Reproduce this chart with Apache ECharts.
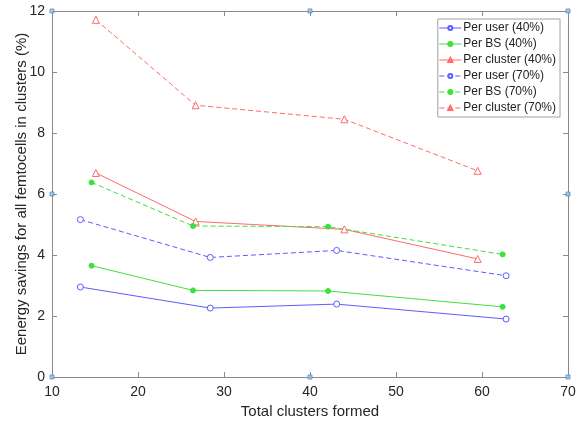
<!DOCTYPE html>
<html>
<head>
<meta charset="utf-8">
<script src="https://cdn.jsdelivr.net/npm/echarts@6/dist/echarts.min.js"></script>
<style>
  html, body { margin: 0; padding: 0; background: #fff; }
  #chart { width: 585px; height: 425px; }
</style>
</head>
<body>
<div id="chart"></div>
<script>
// x positions (clusters formed) per series group
const xUser = [13.3, 28.4, 43.1, 62.8]
const xBS = [14.6, 26.4, 42.1, 62.4]
const xCluster = [15.1, 26.7, 44.0, 59.5]

const userLow = [2.95, 2.26, 2.39, 1.90]
const bsLow = [3.65, 2.84, 2.82, 2.30]
const clusterLow = [6.69, 5.10, 4.84, 3.87]
const userHigh = [5.16, 3.92, 4.15, 3.32]
const bsHigh = [6.38, 4.95, 4.93, 4.02]
const clusterHigh = [11.71, 8.91, 8.45, 6.76]

// stray corner markers in the figure
const cornerX = [10, 40, 10, 10, 40, 70, 70, 70]
const cornerY = [0, 0, 6, 12, 12, 12, 6, 0]

const xTicks = [10, 20, 30, 40, 50, 60, 70]
const yTicks = [0, 2, 4, 6, 8, 10, 12]

const blue = '#5c5cff'
const green = '#3ee03e'
const red = '#ff6b6b'
const font = 'Liberation Sans, Arial, sans-serif'
const axisGray = '#8a8a8a'

const pair = (xs, ys) => xs.map((x, i) => [x, ys[i]])

const mkSeries = (name, xs, ys, color, symbol, dashed, filled) => ({
  name: name,
  type: 'line',
  data: pair(xs, ys),
  symbol: symbol,
  symbolSize: symbol === 'triangle' ? 7 : (filled ? 5 : 6),
  showSymbol: true,
  lineStyle: { color: color, width: 1, type: dashed ? [5, 3] : 'solid' },
  itemStyle: { color: filled ? color : '#fff', borderColor: color, borderWidth: 1 },
  emphasis: { disabled: true },
  animation: false,
  z: 3
})

const chart = echarts.init(document.getElementById('chart'))

const baseAxis = {
  axisLine: { show: true, onZero: false, lineStyle: { color: axisGray, width: 1 } },
  axisTick: { show: true, inside: true, length: 5, lineStyle: { color: axisGray } },
  splitLine: { show: false }
}

chart.setOption({
  backgroundColor: '#fff',
  animation: false,
  grid: { left: 52, right: 17, top: 11, bottom: 48, containLabel: false, outerBoundsMode: 'none' },
  legend: {
    right: 25,
    top: 19,
    orient: 'vertical',
    backgroundColor: '#fff',
    borderColor: '#a0a0a0',
    borderWidth: 1,
    borderRadius: 0,
    padding: [3, 4, 3, 1],
    itemGap: 4,
    itemWidth: 22,
    itemHeight: 5,
    lineStyle: { width: 1 },
    textStyle: { fontFamily: font, fontSize: 12, color: '#222', padding: [0, 0, 0, -3] },
    data: ['Per user (40%)', 'Per BS (40%)', 'Per cluster (40%)', 'Per user (70%)', 'Per BS (70%)', 'Per cluster (70%)']
  },
  xAxis: [
    Object.assign({}, baseAxis, {
      type: 'value', min: 10, max: 70, interval: 10,
      name: 'Total clusters formed', nameLocation: 'middle', nameGap: 26,
      nameTextStyle: { fontFamily: font, fontSize: 15, color: '#262626' },
      axisLabel: { fontFamily: font, fontSize: 14, color: '#262626', margin: 8,
        formatter: v => xTicks.includes(v) ? String(v) : '' }
    }),
    Object.assign({}, baseAxis, {
      type: 'value', min: 10, max: 70, interval: 10, position: 'top',
      axisLabel: { show: false }
    })
  ],
  yAxis: [
    Object.assign({}, baseAxis, {
      type: 'value', min: 0, max: 12, interval: 2,
      name: 'Eenergy savings for all femtocells in clusters (%)', nameLocation: 'middle', nameGap: 23,
      nameMoveOverlap: false,
      nameTextStyle: { fontFamily: font, fontSize: 15, color: '#262626' },
      axisLabel: { fontFamily: font, fontSize: 14, color: '#262626', margin: 7,
        formatter: v => yTicks.includes(v) ? String(v) : '' }
    }),
    Object.assign({}, baseAxis, {
      type: 'value', min: 0, max: 12, interval: 2, position: 'right',
      axisLabel: { show: false }
    })
  ],
  series: [
    mkSeries('Per user (40%)', xUser, userLow, blue, 'circle', false, false),
    mkSeries('Per BS (40%)', xBS, bsLow, green, 'circle', false, true),
    mkSeries('Per cluster (40%)', xCluster, clusterLow, red, 'triangle', false, false),
    mkSeries('Per user (70%)', xUser, userHigh, blue, 'circle', true, false),
    mkSeries('Per BS (70%)', xBS, bsHigh, green, 'circle', true, true),
    mkSeries('Per cluster (70%)', xCluster, clusterHigh, red, 'triangle', true, false),
    {
      name: 'corners',
      type: 'scatter',
      data: pair(cornerX, cornerY),
      symbol: 'rect',
      symbolSize: 4,
      itemStyle: { color: '#9cc3e6', borderColor: '#4f8fc9', borderWidth: 1 },
      emphasis: { disabled: true },
      z: 5
    }
  ]
})
</script>
</body>
</html>
